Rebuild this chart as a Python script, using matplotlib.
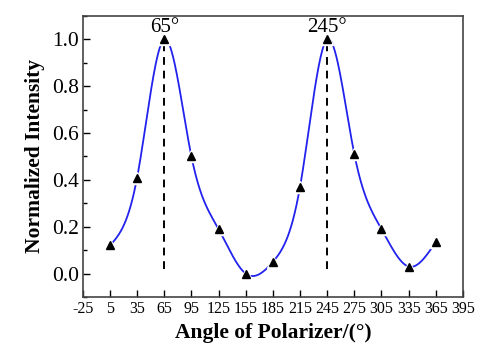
import numpy as np
import matplotlib
matplotlib.use('Agg')
import matplotlib.pyplot as plt
from matplotlib.ticker import MultipleLocator

plt.rcParams.update({
    'font.family': 'Liberation Serif',
    'xtick.direction': 'in', 'ytick.direction': 'in',
})

# ── Data ─────────────────────────────────────────────────────────────
angles = [5, 35, 65, 95, 125, 155, 185, 215, 245, 275, 305, 335, 365]
intensity = [0.12, 0.41, 1.00, 0.50, 0.19, 0.00, 0.05, 0.37, 1.00, 0.51, 0.19, 0.03, 0.135]
peaks = [65, 245]
peak_labels = ['65°', '245°']
xticks = list(range(-25, 396, 30))


def natural_spline(x, y, n=600):
    # smooth curve through the measured points (natural cubic spline)
    x = np.asarray(x, float)
    y = np.asarray(y, float)
    h = np.diff(x)
    k = len(x)
    A = np.zeros((k, k))
    r = np.zeros(k)
    A[0, 0] = A[-1, -1] = 1
    for i in range(1, k - 1):
        A[i, i - 1] = h[i - 1]
        A[i, i] = 2 * (h[i - 1] + h[i])
        A[i, i + 1] = h[i]
        r[i] = 3 * ((y[i + 1] - y[i]) / h[i] - (y[i] - y[i - 1]) / h[i - 1])
    c = np.linalg.solve(A, r)
    b = (y[1:] - y[:-1]) / h - h * (2 * c[:-1] + c[1:]) / 3
    d = (c[1:] - c[:-1]) / (3 * h)
    xs = np.linspace(x[0], x[-1], n)
    idx = np.clip(np.searchsorted(x, xs) - 1, 0, k - 2)
    t = xs - x[idx]
    ys = y[idx] + b[idx] * t + c[idx] * t ** 2 + d[idx] * t ** 3
    return xs, ys


fig = plt.figure(figsize=(4.93, 3.54), dpi=100)
ax = fig.add_axes([0.168, 0.161, 0.771, 0.794])

xs, ys = natural_spline(angles, intensity)
ax.plot(xs, ys, color='#2222ee', linewidth=1.3, zorder=2)

# dashed guides at the two maxima
for p, lab in zip(peaks, peak_labels):
    ax.plot([p, p], [0.02, 1.0], color='black', linestyle=(0, (4, 3)),
            linewidth=1.4, zorder=3)
    ax.text(p, 1.01, lab, ha='center', va='bottom', fontsize=15)

# markers with a white halo to break the line around them
ax.plot(angles, intensity, linestyle='none', marker='^', markersize=8.5,
        color='white', zorder=4)
ax.plot(angles, intensity, linestyle='none', marker='^', markersize=5.5,
        color='black', zorder=5)

ax.set_xlim(-25, 395)
ax.set_ylim(-0.1, 1.1)
ax.set_xticks(xticks)
ax.set_xticklabels([str(v) for v in xticks], fontsize=11.5)
ax.yaxis.set_major_locator(MultipleLocator(0.2))
ax.yaxis.set_minor_locator(MultipleLocator(0.1))
ax.set_yticks([0.0, 0.2, 0.4, 0.6, 0.8, 1.0])
ax.set_yticklabels(['0.0', '0.2', '0.4', '0.6', '0.8', '1.0'], fontsize=15.5)
ax.tick_params(axis='both', which='major', length=5, width=1, pad=3)
ax.tick_params(axis='y', which='minor', length=3, width=1)
ax.tick_params(axis='x', which='minor', bottom=False)
for s in ax.spines.values():
    s.set_color('#444444')
    s.set_linewidth(1.2)

ax.set_xlabel('Angle of Polarizer/(°)', fontsize=15.5, fontweight='bold', labelpad=4)
ax.set_ylabel('Normalized Intensity', fontsize=15.5, fontweight='bold', labelpad=5)

fig.savefig('out.png', dpi=100)
